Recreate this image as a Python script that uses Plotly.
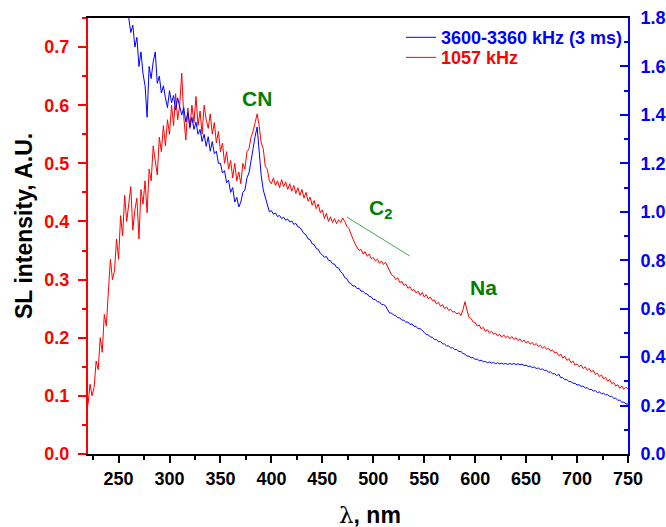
import plotly.graph_objects as go

# ---- data ----
wl_red = list(range(220, 751, 2))
red_1057 = [
    0.085, 0.12, 0.10, 0.115, 0.16, 0.145, 0.20, 0.175, 0.24, 0.22,
    0.28, 0.335, 0.30, 0.315, 0.37, 0.335, 0.41, 0.375, 0.445, 0.40,
    0.43, 0.46, 0.385, 0.42, 0.44, 0.37, 0.455, 0.43, 0.47, 0.415,
    0.49, 0.47, 0.53, 0.505, 0.48, 0.545, 0.52, 0.565, 0.53, 0.575,
    0.55, 0.60, 0.565, 0.62, 0.575, 0.60, 0.655, 0.58, 0.54, 0.595,
    0.56, 0.60, 0.57, 0.615, 0.565, 0.59, 0.55, 0.60, 0.575, 0.56,
    0.585, 0.55, 0.57, 0.535, 0.555, 0.52, 0.535, 0.50, 0.52, 0.49,
    0.505, 0.475, 0.50, 0.47, 0.485, 0.465, 0.50, 0.49, 0.52, 0.525,
    0.545, 0.555, 0.57, 0.585, 0.565, 0.535, 0.525, 0.495, 0.49, 0.47,
    0.465, 0.475, 0.462, 0.47, 0.458, 0.472, 0.46, 0.468, 0.455, 0.465,
    0.452, 0.462, 0.448, 0.458, 0.445, 0.455, 0.44, 0.45, 0.435, 0.442,
    0.428, 0.436, 0.422, 0.43, 0.415, 0.42, 0.405, 0.414, 0.40, 0.408,
    0.398, 0.405, 0.396, 0.403, 0.398, 0.406, 0.40, 0.392, 0.388, 0.378,
    0.37, 0.362, 0.356, 0.35, 0.352, 0.344, 0.348, 0.34, 0.344, 0.336,
    0.338, 0.332, 0.335, 0.328, 0.332, 0.326, 0.33, 0.322, 0.315, 0.308,
    0.306, 0.30, 0.303, 0.295, 0.297, 0.29, 0.292, 0.285, 0.288, 0.281,
    0.283, 0.277, 0.28, 0.273, 0.278, 0.27, 0.274, 0.267, 0.27, 0.264,
    0.265, 0.258, 0.261, 0.254, 0.257, 0.25, 0.253, 0.247, 0.249, 0.244,
    0.245, 0.241, 0.243, 0.238, 0.248, 0.262, 0.247, 0.235, 0.233, 0.227,
    0.226, 0.22, 0.222, 0.215, 0.218, 0.211, 0.214, 0.208, 0.211, 0.206,
    0.208, 0.203, 0.206, 0.201, 0.205, 0.2, 0.203, 0.198, 0.202, 0.197,
    0.2, 0.195, 0.198, 0.193, 0.196, 0.191, 0.194, 0.189, 0.192, 0.187,
    0.19, 0.185, 0.187, 0.182, 0.185, 0.18, 0.182, 0.177, 0.179, 0.174,
    0.175, 0.169, 0.172, 0.165, 0.168, 0.161, 0.164, 0.157, 0.16, 0.153,
    0.155, 0.15, 0.153, 0.147, 0.15, 0.144, 0.147, 0.141, 0.144, 0.137,
    0.139, 0.133, 0.136, 0.129, 0.132, 0.125, 0.128, 0.121, 0.123, 0.117,
    0.119, 0.113, 0.117, 0.111, 0.115, 0.112,
]

wl_blue = list(range(250, 751, 2))
blue_3600 = [
    2.1, 2.0, 1.95, 1.9, 1.86, 1.8, 1.74, 1.77, 1.68, 1.72,
    1.6, 1.66, 1.57, 1.52, 1.39, 1.6, 1.55, 1.62, 1.66, 1.53,
    1.56, 1.49, 1.52, 1.47, 1.43, 1.5, 1.45, 1.48, 1.42, 1.47,
    1.44, 1.4, 1.43, 1.37, 1.41, 1.35, 1.39, 1.34, 1.37, 1.32,
    1.34, 1.29, 1.32, 1.27, 1.31, 1.25, 1.29, 1.24, 1.25, 1.2,
    1.2, 1.16, 1.17, 1.12, 1.13, 1.08, 1.1, 1.04, 1.06, 1.02,
    1.04, 1.08, 1.09, 1.14, 1.16, 1.22, 1.26, 1.31, 1.35, 1.25,
    1.15, 1.09, 1.06, 1.03, 1.0, 1.005, 0.99, 0.995, 0.98, 0.985,
    0.972, 0.978, 0.965, 0.97, 0.958, 0.962, 0.948, 0.952, 0.938, 0.935,
    0.92, 0.91, 0.905, 0.888, 0.885, 0.868, 0.865, 0.848, 0.845, 0.828,
    0.822, 0.812, 0.815, 0.8, 0.798, 0.785, 0.784, 0.77, 0.768, 0.752,
    0.745, 0.728, 0.724, 0.708, 0.704, 0.693, 0.694, 0.683, 0.684, 0.672,
    0.672, 0.662, 0.661, 0.65, 0.649, 0.638, 0.638, 0.628, 0.628, 0.618,
    0.617, 0.612, 0.596, 0.582, 0.582, 0.573, 0.572, 0.563, 0.562, 0.553,
    0.552, 0.544, 0.545, 0.535, 0.537, 0.527, 0.527, 0.517, 0.518, 0.508,
    0.502, 0.493, 0.492, 0.483, 0.482, 0.473, 0.472, 0.464, 0.464, 0.455,
    0.454, 0.446, 0.446, 0.438, 0.439, 0.431, 0.431, 0.423, 0.423, 0.415,
    0.412, 0.404, 0.404, 0.397, 0.398, 0.39, 0.392, 0.385, 0.387, 0.381,
    0.382, 0.377, 0.38, 0.375, 0.378, 0.373, 0.376, 0.372, 0.375, 0.371,
    0.374, 0.37, 0.374, 0.37, 0.374, 0.369, 0.373, 0.368, 0.371, 0.365,
    0.367, 0.361, 0.363, 0.357, 0.359, 0.353, 0.355, 0.349, 0.351, 0.345,
    0.345, 0.338, 0.339, 0.331, 0.332, 0.323, 0.33, 0.315, 0.315, 0.307,
    0.307, 0.299, 0.299, 0.292, 0.292, 0.285, 0.286, 0.279, 0.28, 0.273,
    0.273, 0.266, 0.267, 0.26, 0.261, 0.254, 0.256, 0.249, 0.251, 0.244,
    0.245, 0.238, 0.238, 0.23, 0.23, 0.222, 0.222, 0.214, 0.214, 0.207,
    0.206,
]

name_blue = "3600-3360 kHz (3 ms)"
name_red = "1057 kHz"

labels = ["CN", "C<sub>2</sub>", "Na"]
label_x = [385.9, 506.6, 607.7]
label_y = [0.611, 0.421, 0.287]

c2_line_x = [474.2, 535.7]
c2_line_y = [0.4074, 0.3407]

RED = "#ff0000"
BLUE = "#0000ff"
GREEN = "#008000"
FONT = "Liberation Sans"

fig = go.Figure()
fig.add_trace(go.Scatter(
    x=wl_red, y=red_1057, mode="lines", yaxis="y",
    line=dict(color=RED, width=1),
    name=f"<span style='color:{RED}'>{name_red}</span>", legend="legend2",
))
fig.add_trace(go.Scatter(
    x=wl_blue, y=blue_3600, mode="lines", yaxis="y2",
    line=dict(color=BLUE, width=1),
    name=f"<span style='color:{BLUE}'>{name_blue}</span>", legend="legend",
))

tickfont_black = dict(family=FONT, size=18, color="black", weight="bold")

fig.update_layout(
    width=666, height=527,
    margin=dict(l=88, r=38, t=18, b=73, autoexpand=False),
    paper_bgcolor="white", plot_bgcolor="white",
    font=dict(family=FONT),
    showlegend=True,
    xaxis=dict(
        range=[220, 750], dtick=50, tick0=0, automargin=False,
        showline=True, linecolor="black", linewidth=2, mirror=True,
        ticks="outside", ticklen=7, tickwidth=2, tickcolor="black",
        minor=dict(dtick=25, tick0=0, ticks="outside", ticklen=4, tickwidth=2, tickcolor="black"),
        tickfont=tickfont_black, showgrid=False, zeroline=False,
        ticklabelstandoff=0,
    ),
    yaxis=dict(
        range=[0, 0.75], dtick=0.1, tick0=0, tickformat=".1f", automargin=False,
        showline=True, linecolor=RED, linewidth=2,
        ticks="outside", ticklen=8, tickwidth=2, tickcolor=RED,
        minor=dict(dtick=0.05, tick0=0, ticks="outside", ticklen=4, tickwidth=2, tickcolor=RED),
        tickfont=dict(family=FONT, size=18, color=RED, weight="bold"),
        showgrid=False, zeroline=False, ticklabelstandoff=5,
    ),
    yaxis2=dict(
        overlaying="y", side="right", automargin=False,
        range=[0, 1.8], dtick=0.2, tick0=0, tickformat=".1f",
        showline=True, linecolor=BLUE, linewidth=2,
        ticks="inside", ticklen=8, tickwidth=2, tickcolor=BLUE,
        minor=dict(dtick=0.1, tick0=0, ticks="inside", ticklen=4, tickwidth=2, tickcolor=BLUE),
        tickfont=dict(family=FONT, size=18, color=BLUE, weight="bold"),
        showgrid=False, zeroline=False, ticklabelstandoff=7,
    ),
    legend=dict(
        x=0.5796, y=0.955, xanchor="left", yanchor="middle",
        bgcolor="rgba(0,0,0,0)", borderwidth=0,
        font=dict(family=FONT, size=18, weight="bold"),
    ),
    legend2=dict(
        x=0.5796, y=0.909, xanchor="left", yanchor="middle",
        bgcolor="rgba(0,0,0,0)", borderwidth=0,
        font=dict(family=FONT, size=18, weight="bold"),
    ),
)

fig.add_shape(
    type="line", xref="x", yref="y",
    x0=c2_line_x[0], y0=c2_line_y[0], x1=c2_line_x[1], y1=c2_line_y[1],
    line=dict(color="#44a844", width=1),
)

for t, lx, ly in zip(labels, label_x, label_y):
    fig.add_annotation(
        x=lx, y=ly, xref="x", yref="y", text=t, showarrow=False,
        font=dict(family=FONT, size=21, color=GREEN, weight="bold"),
    )

fig.add_annotation(
    x=-0.1185, y=0.523, xref="paper", yref="paper",
    xanchor="center", yanchor="middle",
    text="SL intensity, A.U.", textangle=-90, showarrow=False,
    font=dict(family=FONT, size=23, color="black", weight="bold"),
)
fig.add_annotation(
    x=0.522, y=-0.141, xref="paper", yref="paper",
    xanchor="center", yanchor="middle",
    text="<span style='font-family:DejaVu Serif;font-weight:normal'>λ</span>, nm",
    showarrow=False,
    font=dict(family=FONT, size=23, color="black", weight="bold"),
)

fig.write_html(
    "out.html",
    config={"displayModeBar": False},
    post_script="document.body.style.margin='0';document.body.style.padding='0';",
)
